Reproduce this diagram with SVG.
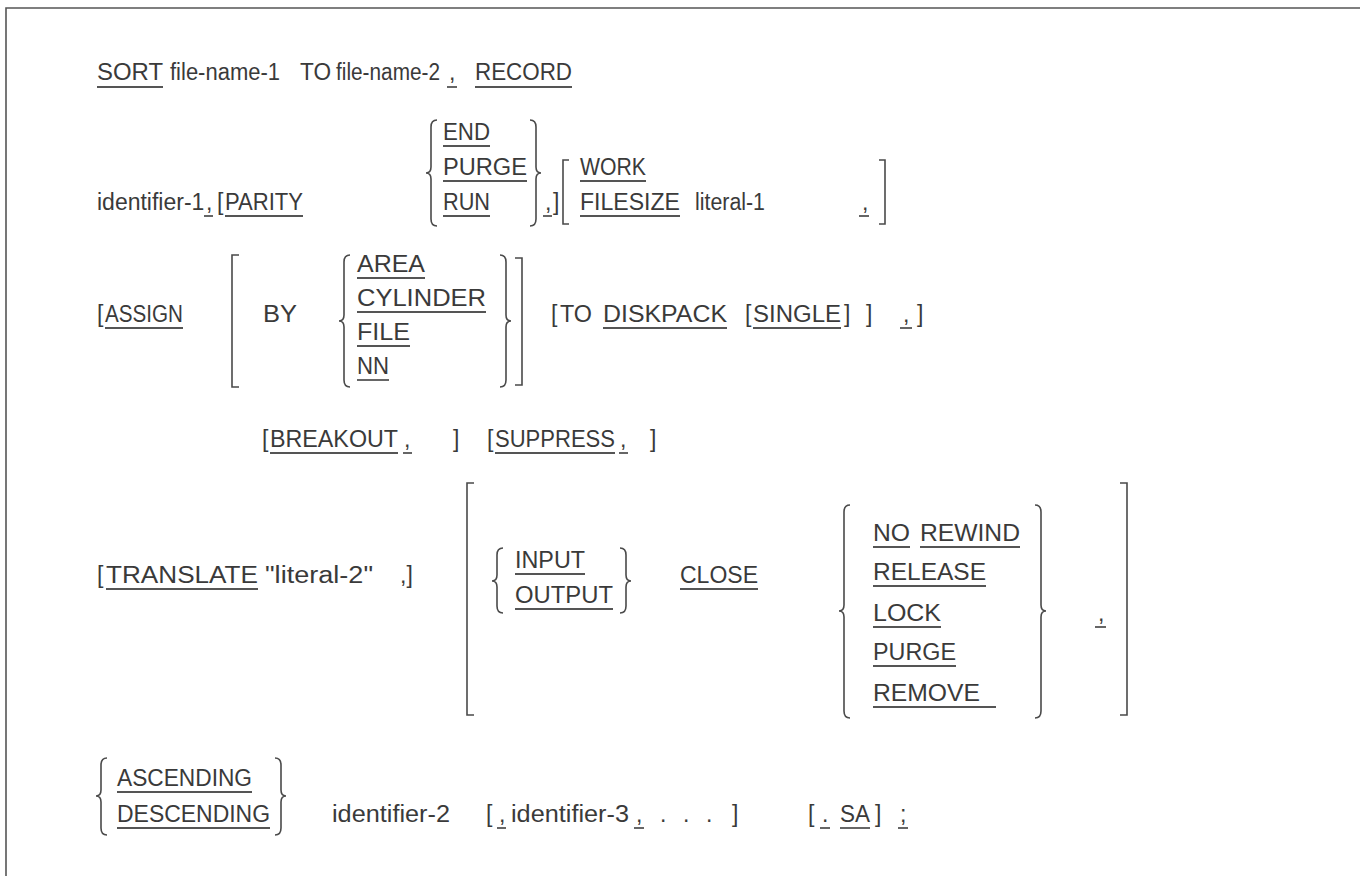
<svg xmlns="http://www.w3.org/2000/svg" width="1360" height="876" viewBox="0 0 1360 876">
<style>
text { font-family: "Liberation Sans", Arial, Helvetica, sans-serif; font-size: 23px; fill: #3a3a3a; }
.u { stroke: #555; stroke-width: 1.8; fill: none; }
.b { stroke: #4a4a4a; stroke-width: 1.6; fill: none; }
.frame { stroke: #555; stroke-width: 1.6; fill: none; }
</style>
<rect width="1360" height="876" fill="#ffffff"/>
<path class="frame" d="M6,876 V8 H1360"/>

<g id="row-sort">
<text x="97" y="80" textLength="66" lengthAdjust="spacingAndGlyphs">SORT</text>
<line class="u" x1="97" y1="87" x2="163" y2="87"/>
<text x="170" y="80" textLength="110" lengthAdjust="spacingAndGlyphs">file-name-1</text>
<text x="300" y="80" textLength="31" lengthAdjust="spacingAndGlyphs">TO</text>
<text x="336" y="80" textLength="104" lengthAdjust="spacingAndGlyphs">file-name-2</text>
<text x="449" y="80">,</text>
<line class="u" x1="447" y1="87" x2="457" y2="87"/>
<text x="475" y="80" textLength="97" lengthAdjust="spacingAndGlyphs">RECORD</text>
<line class="u" x1="475" y1="87" x2="572" y2="87"/>
</g>

<g id="row-parity">
<text x="97" y="210">identifier-1</text>
<text x="206" y="210">,</text>
<line class="u" x1="204" y1="216" x2="213" y2="216"/>
<text x="217" y="210">[</text>
<text x="225" y="210" textLength="78" lengthAdjust="spacingAndGlyphs">PARITY</text>
<line class="u" x1="225" y1="216" x2="303" y2="216"/>
<path class="b" d="M437,120 Q431,120 431,127 L431,167 Q431,173 426,173 Q431,173 431,179 L431,219 Q431,226 437,226"/>
<text x="443" y="140" textLength="47" lengthAdjust="spacingAndGlyphs">END</text>
<line class="u" x1="443" y1="146" x2="490" y2="146"/>
<text x="443" y="175" textLength="84" lengthAdjust="spacingAndGlyphs">PURGE</text>
<line class="u" x1="443" y1="181" x2="527" y2="181"/>
<text x="443" y="210" textLength="47" lengthAdjust="spacingAndGlyphs">RUN</text>
<line class="u" x1="443" y1="216" x2="490" y2="216"/>
<path class="b" d="M530,120 Q536,120 536,127 L536,167 Q536,173 541,173 Q536,173 536,179 L536,219 Q536,226 530,226"/>
<text x="545" y="210">,</text>
<line class="u" x1="543" y1="216" x2="552" y2="216"/>
<text x="553" y="210">]</text>
<path class="b" d="M569,160 H563 V224 H569"/>
<text x="580" y="175" textLength="66" lengthAdjust="spacingAndGlyphs">WORK</text>
<line class="u" x1="580" y1="181" x2="646" y2="181"/>
<text x="580" y="210" textLength="100" lengthAdjust="spacingAndGlyphs">FILESIZE</text>
<line class="u" x1="580" y1="216" x2="680" y2="216"/>
<text x="695" y="210" textLength="70" lengthAdjust="spacingAndGlyphs">literal-1</text>
<text x="862" y="210">,</text>
<line class="u" x1="859" y1="216" x2="869" y2="216"/>
<path class="b" d="M879,160 H885 V224 H879"/>
</g>

<g id="row-assign">
<text x="97" y="322">[</text>
<text x="105" y="322" textLength="78" lengthAdjust="spacingAndGlyphs">ASSIGN</text>
<line class="u" x1="105" y1="328" x2="183" y2="328"/>
<path class="b" d="M239,255 H232 V387 H239"/>
<text x="263" y="322" textLength="34" lengthAdjust="spacingAndGlyphs">BY</text>
<path class="b" d="M350,255 Q344,255 344,262 L344,315 Q344,321 339,321 Q344,321 344,327 L344,380 Q344,387 350,387"/>
<text x="357" y="272" textLength="68" lengthAdjust="spacingAndGlyphs">AREA</text>
<line class="u" x1="357" y1="278" x2="425" y2="278"/>
<text x="357" y="306" textLength="129" lengthAdjust="spacingAndGlyphs">CYLINDER</text>
<line class="u" x1="357" y1="312" x2="486" y2="312"/>
<text x="357" y="340" textLength="53" lengthAdjust="spacingAndGlyphs">FILE</text>
<line class="u" x1="357" y1="346" x2="410" y2="346"/>
<text x="357" y="374" textLength="32" lengthAdjust="spacingAndGlyphs">NN</text>
<line class="u" x1="357" y1="380" x2="389" y2="380"/>
<path class="b" d="M500,255 Q506,255 506,262 L506,315 Q506,321 511,321 Q506,321 506,327 L506,380 Q506,387 500,387"/>
<path class="b" d="M515,258 H522 V385 H515"/>
<text x="551" y="322">[</text>
<text x="560" y="322" textLength="32" lengthAdjust="spacingAndGlyphs">TO</text>
<text x="603" y="322" textLength="124" lengthAdjust="spacingAndGlyphs">DISKPACK</text>
<line class="u" x1="603" y1="328" x2="727" y2="328"/>
<text x="745" y="322">[</text>
<text x="753" y="322" textLength="88" lengthAdjust="spacingAndGlyphs">SINGLE</text>
<line class="u" x1="753" y1="328" x2="841" y2="328"/>
<text x="844" y="322">]</text>
<text x="866" y="322">]</text>
<text x="903" y="322">,</text>
<line class="u" x1="900" y1="328" x2="912" y2="328"/>
<text x="917" y="322">]</text>
</g>

<g id="row-breakout">
<text x="262" y="447">[</text>
<text x="270" y="447" textLength="128" lengthAdjust="spacingAndGlyphs">BREAKOUT</text>
<line class="u" x1="270" y1="453" x2="398" y2="453"/>
<text x="404" y="447">,</text>
<line class="u" x1="403" y1="453" x2="412" y2="453"/>
<text x="453" y="447">]</text>
<text x="487" y="447">[</text>
<text x="495" y="447" textLength="120" lengthAdjust="spacingAndGlyphs">SUPPRESS</text>
<line class="u" x1="495" y1="453" x2="615" y2="453"/>
<text x="620" y="447">,</text>
<line class="u" x1="619" y1="453" x2="628" y2="453"/>
<text x="650" y="447">]</text>
</g>

<g id="row-translate">
<text x="97" y="583">[</text>
<text x="106" y="583" textLength="152" lengthAdjust="spacingAndGlyphs">TRANSLATE</text>
<line class="u" x1="106" y1="589" x2="258" y2="589"/>
<text x="265" y="583" textLength="108" lengthAdjust="spacingAndGlyphs">"literal-2"</text>
<text x="400" y="583">,]</text>
<path class="b" d="M474,483 H467 V715 H474"/>
<path class="b" d="M503,548 Q497,548 497,555 L497,575 Q497,581 492,581 Q497,581 497,587 L497,606 Q497,613 503,613"/>
<text x="515" y="568" textLength="70" lengthAdjust="spacingAndGlyphs">INPUT</text>
<line class="u" x1="515" y1="574" x2="585" y2="574"/>
<text x="515" y="603" textLength="98" lengthAdjust="spacingAndGlyphs">OUTPUT</text>
<line class="u" x1="515" y1="609" x2="613" y2="609"/>
<path class="b" d="M620,548 Q626,548 626,555 L626,575 Q626,581 631,581 Q626,581 626,587 L626,606 Q626,613 620,613"/>
<text x="680" y="583" textLength="78" lengthAdjust="spacingAndGlyphs">CLOSE</text>
<line class="u" x1="680" y1="589" x2="758" y2="589"/>
<path class="b" d="M850,505 Q844,505 844,512 L844,605 Q844,611 839,611 Q844,611 844,617 L844,711 Q844,718 850,718"/>
<text x="873" y="541" textLength="37" lengthAdjust="spacingAndGlyphs">NO</text>
<line class="u" x1="873" y1="547" x2="910" y2="547"/>
<text x="920" y="541" textLength="100" lengthAdjust="spacingAndGlyphs">REWIND</text>
<line class="u" x1="920" y1="547" x2="1020" y2="547"/>
<text x="873" y="580" textLength="113" lengthAdjust="spacingAndGlyphs">RELEASE</text>
<line class="u" x1="873" y1="586" x2="986" y2="586"/>
<text x="873" y="621" textLength="68" lengthAdjust="spacingAndGlyphs">LOCK</text>
<line class="u" x1="873" y1="627" x2="941" y2="627"/>
<text x="873" y="660" textLength="83" lengthAdjust="spacingAndGlyphs">PURGE</text>
<line class="u" x1="873" y1="666" x2="956" y2="666"/>
<text x="873" y="701" textLength="107" lengthAdjust="spacingAndGlyphs">REMOVE</text>
<line class="u" x1="873" y1="707" x2="996" y2="707"/>
<path class="b" d="M1035,505 Q1041,505 1041,512 L1041,605 Q1041,611 1046,611 Q1041,611 1041,617 L1041,711 Q1041,718 1035,718"/>
<text x="1098" y="621">,</text>
<line class="u" x1="1095" y1="627" x2="1106" y2="627"/>
<path class="b" d="M1120,483 H1127 V715 H1120"/>
</g>

<g id="row-ascending">
<path class="b" d="M107,758 Q101,758 101,765 L101,790 Q101,796 96,796 Q101,796 101,802 L101,828 Q101,835 107,835"/>
<text x="117" y="786" textLength="135" lengthAdjust="spacingAndGlyphs">ASCENDING</text>
<line class="u" x1="117" y1="792" x2="252" y2="792"/>
<text x="117" y="822" textLength="153" lengthAdjust="spacingAndGlyphs">DESCENDING</text>
<line class="u" x1="117" y1="828" x2="270" y2="828"/>
<path class="b" d="M275,758 Q281,758 281,765 L281,790 Q281,796 286,796 Q281,796 281,802 L281,828 Q281,835 275,835"/>
<text x="332" y="822" textLength="118" lengthAdjust="spacingAndGlyphs">identifier-2</text>
<text x="486" y="822">[</text>
<text x="499" y="822">,</text>
<line class="u" x1="497" y1="828" x2="506" y2="828"/>
<text x="511" y="822" textLength="118" lengthAdjust="spacingAndGlyphs">identifier-3</text>
<text x="636" y="822">,</text>
<line class="u" x1="634" y1="828" x2="644" y2="828"/>
<text x="660" y="822">.</text>
<text x="683" y="822">.</text>
<text x="706" y="822">.</text>
<text x="732" y="822">]</text>
<text x="808" y="822">[</text>
<text x="822" y="822">.</text>
<line class="u" x1="820" y1="828" x2="830" y2="828"/>
<text x="840" y="822" textLength="30" lengthAdjust="spacingAndGlyphs">SA</text>
<line class="u" x1="840" y1="828" x2="870" y2="828"/>
<text x="875" y="822">]</text>
<text x="900" y="822">;</text>
<line class="u" x1="898" y1="828" x2="908" y2="828"/>
</g>
</svg>
